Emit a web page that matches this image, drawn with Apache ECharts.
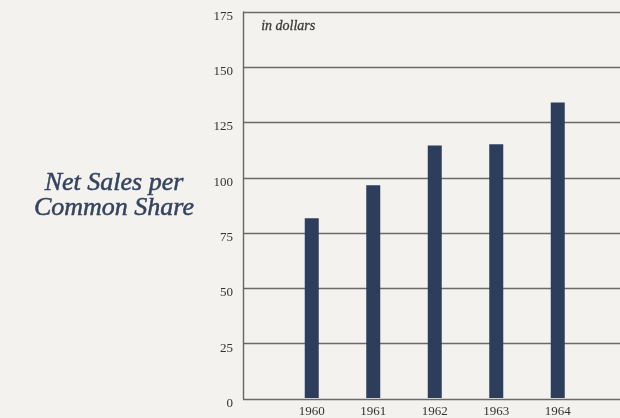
<!DOCTYPE html>
<html>
<head>
<meta charset="utf-8">
<script src="https://cdn.jsdelivr.net/npm/echarts@6/dist/echarts.min.js"></script>
<style>
  html, body { margin: 0; padding: 0; background: #f3f2ee; }
  #chart { width: 620px; height: 418px; }
</style>
</head>
<body>
<div id="chart"></div>
<script>
// Net sales per common share, in dollars
const years = ['1960', '1961', '1962', '1963', '1964'];
const netSales = [81.5, 96.5, 114.5, 115, 134];
const yTicks = { min: 0, max: 175, step: 25 };

const serif = '"Liberation Serif", "DejaVu Serif", serif';
const ink = '#2d3e5c';

const chart = echarts.init(document.getElementById('chart'), null, { renderer: 'canvas' });

chart.setOption({
  backgroundColor: '#f3f2ee',
  animation: false,
  title: {
    text: 'Net Sales per\nCommon Share',
    left: 109,
    top: 166,
    textAlign: 'center',
    textStyle: {
      fontFamily: serif,
      fontStyle: 'italic',
      fontWeight: 'normal',
      fontSize: 26,
      lineHeight: 25,
      color: '#35435f',
      textBorderColor: '#35435f',
      textBorderWidth: 0.5
    }
  },
  graphic: [{
    type: 'text',
    left: 261,
    top: 19,
    style: {
      text: 'in dollars',
      fontFamily: serif,
      fontStyle: 'italic',
      fontSize: 14,
      fill: '#3a3a3a',
      stroke: '#3a3a3a',
      lineWidth: 0.3
    }
  }],
  grid: [
    // frame grid: y axis, horizontal rules
    { left: 243, right: 0, top: 12, bottom: 19 },
    // bar grid: five year slots
    { left: 281, width: 307.5, top: 12, bottom: 19 }
  ],
  xAxis: [
    { type: 'value', gridIndex: 0, show: false, min: 0, max: 1 },
    {
      type: 'category', gridIndex: 1, data: years,
      axisLine: { show: false }, axisTick: { show: false },
      axisLabel: { fontFamily: serif, fontSize: 13, color: '#333', margin: 7 }
    }
  ],
  yAxis: [
    {
      type: 'value', gridIndex: 0,
      min: yTicks.min, max: yTicks.max, interval: yTicks.step,
      axisLine: { show: true, lineStyle: { color: '#666', width: 1.4 } },
      axisTick: { show: false },
      axisLabel: {
        fontFamily: serif, fontSize: 13, color: '#333', margin: 10,
        verticalAlign: 'top', lineHeight: 9
      },
      splitLine: { show: true, lineStyle: { color: '#6a6a6a', width: 1.4 } }
    },
    {
      type: 'value', gridIndex: 1, show: false,
      min: yTicks.min, max: yTicks.max, interval: yTicks.step,
      splitLine: { show: false }
    }
  ],
  series: [{
    type: 'bar',
    xAxisIndex: 1,
    yAxisIndex: 1,
    data: netSales,
    barWidth: 14,
    itemStyle: { color: ink }
  }]
});
</script>
</body>
</html>
